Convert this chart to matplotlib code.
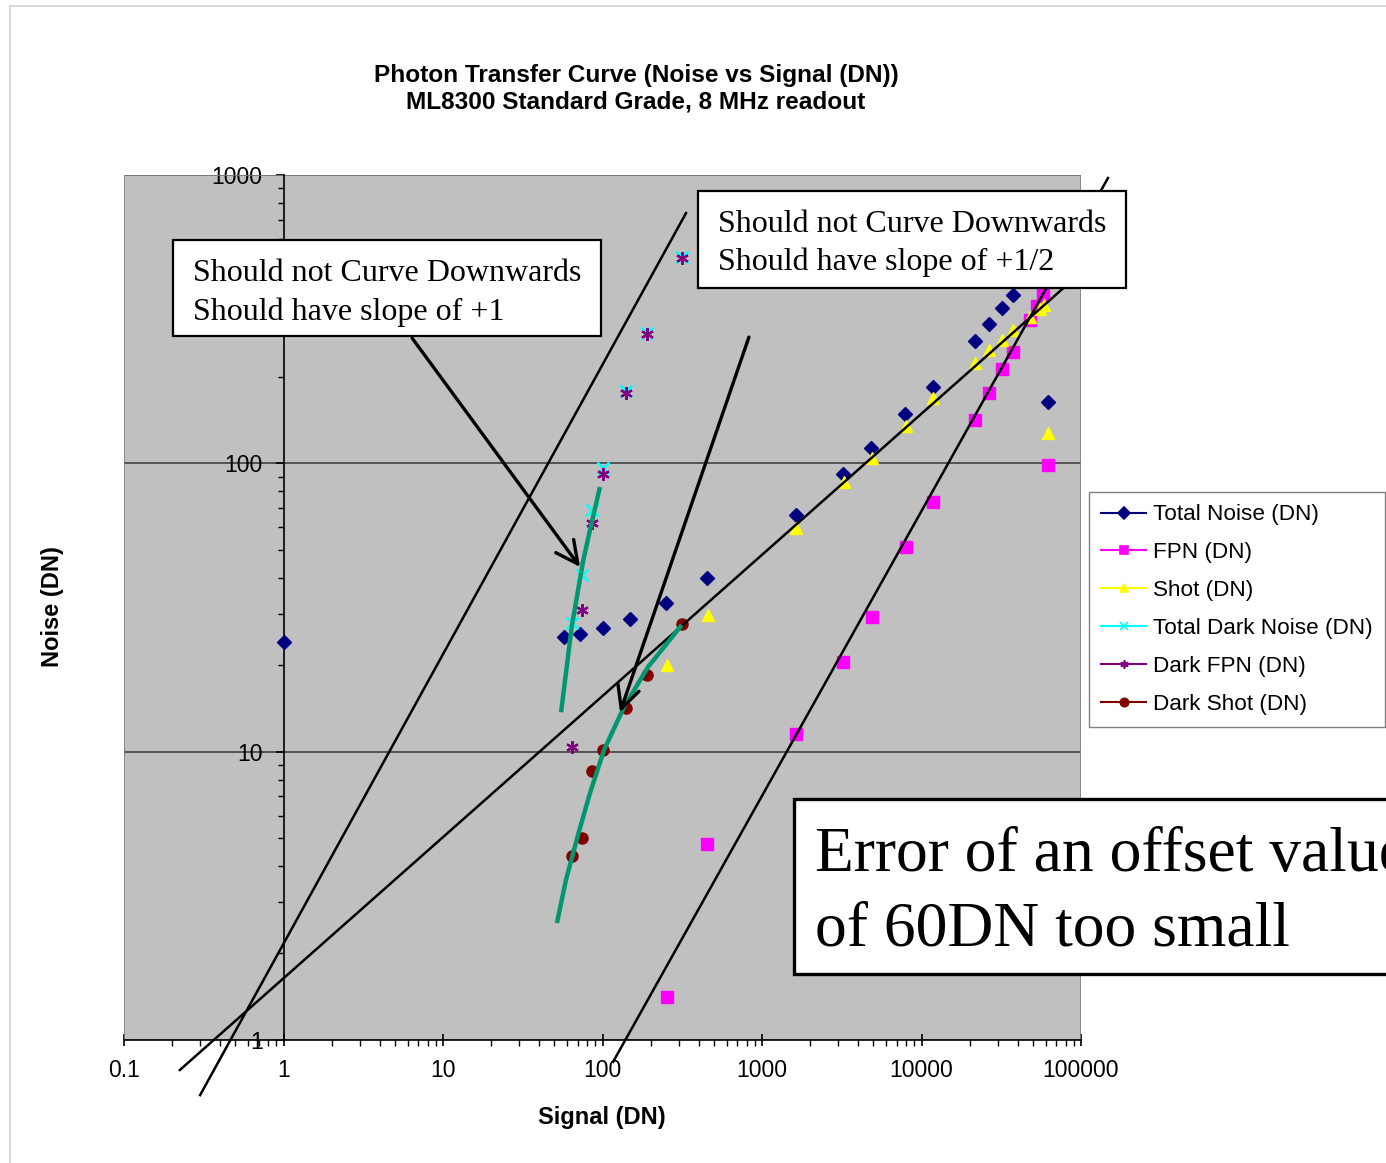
import matplotlib
matplotlib.use("Agg")
import matplotlib.pyplot as plt
from matplotlib.lines import Line2D
from matplotlib.patches import Rectangle
from matplotlib.ticker import FixedLocator, LogLocator, NullFormatter, FuncFormatter

plt.rcParams['font.family'] = ['Liberation Sans', 'DejaVu Sans']

# ---- values (signal DN, noise DN) ----
total_x = [1, 57, 72, 101, 149, 250, 452, 1633, 3220, 4820, 7880, 11800,
           21640, 26500, 32000, 37500, 62100]
total_y = [24, 25, 25.6, 26.8, 28.8, 32.8, 40, 66, 92, 113, 148, 184,
           266, 304, 346, 384, 163]

fpn_x = [253, 452, 1633, 3220, 4900, 8000, 11860, 21640, 26600, 31840,
         37600, 47900, 52700, 58000, 62300]
fpn_y = [1.41, 4.78, 11.5, 20.5, 29.3, 51.4, 73.6, 141, 176, 212,
         244, 314, 350, 385, 99]

shot_x = [253, 456, 1633, 3266, 4870, 7960, 11860, 21640, 26600, 31840,
          37600, 47900, 55300, 58500, 62400]
shot_y = [20, 29.8, 59.5, 86, 104, 135, 168, 223, 247, 268,
          290, 322, 342, 354, 127]

dark_x = [64, 74, 86, 101, 141, 191, 314]
dark_total_y = [28, 41, 69, 96, 178, 283, 518]
dark_fpn_y = [10.4, 31, 62, 92, 175, 281, 514]
dark_shot_y = [4.35, 5.0, 8.6, 10.1, 14.2, 18.5, 27.7]

series_names = ["Total Noise (DN)", "FPN (DN)", "Shot (DN)",
                "Total Dark Noise (DN)", "Dark FPN (DN)", "Dark Shot (DN)"]

x_ticks = [0.1, 1, 10, 100, 1000, 10000, 100000]
y_ticks = [1, 10, 100, 1000]

# hand-drawn reference lines (end points)
slope1_x, slope1_y = [0.30, 334], [0.644, 738]
half_x, half_y = [0.224, 113800], [0.787, 489]
fpn_line_x, fpn_line_y = [116.5, 147600], [0.84, 976]

# green hand-drawn strokes
green_a_x = [55, 64.1, 75.8, 83.5, 96.4]
green_a_y = [13.7, 27.1, 46.2, 58.7, 82.8]
green_b_x = [51.8, 59.0, 70.2, 83.5, 102.2, 136.4, 192.9, 313.8]
green_b_y = [2.545, 3.59, 5.14, 7.19, 10.13, 14.29, 19.66, 27.5]

# arrows (tail, tip)
arrows = [((6.4, 272), (72.3, 43.7)), ((828, 274), (128.8, 13.7))]

W, H = 1386, 1163
fig = plt.figure(figsize=(W / 100, H / 100), dpi=100)
ax = fig.add_axes([124 / W, 1 - 1040 / H, 957 / W, 865 / H])


def px_rect(x0, y0, x1, y1, **kw):
    return Rectangle((x0 / W, 1 - y1 / H), (x1 - x0) / W, (y1 - y0) / H,
                     transform=fig.transFigure, **kw)


# outer light frame
fig.add_artist(px_rect(10, 6, 1400, 1180, fill=False, edgecolor='#d4d4d4', lw=1.2))

ax.set_xscale('log')
ax.set_yscale('log')
ax.set_xlim(0.1, 100000)
ax.set_ylim(1, 1000)
ax.set_facecolor('#c0c0c0')
ax.add_patch(Rectangle((0, 0), 1, 1, transform=ax.transAxes, fill=False,
                       edgecolor='#808080', lw=1.2, zorder=0.6))

ax.spines['left'].set_position(('data', 1))
for s in ('top', 'right'):
    ax.spines[s].set_visible(False)
ax.spines['left'].set_linewidth(1.2)
ax.spines['bottom'].set_linewidth(1.2)

ax.set_axisbelow(True)
ax.yaxis.grid(True, which='major', color='#404040', lw=1.2)

fmt = FuncFormatter(lambda v, p: '%g' % v)
ax.xaxis.set_major_locator(FixedLocator(x_ticks))
ax.yaxis.set_major_locator(FixedLocator(y_ticks))
ax.xaxis.set_minor_locator(LogLocator(base=10, subs=range(2, 10), numticks=20))
ax.yaxis.set_minor_locator(LogLocator(base=10, subs=range(2, 10), numticks=20))
ax.xaxis.set_major_formatter(fmt)
ax.yaxis.set_major_formatter(fmt)
ax.xaxis.set_minor_formatter(NullFormatter())
ax.yaxis.set_minor_formatter(NullFormatter())
ax.tick_params(axis='x', which='major', direction='inout', length=9, width=1.2,
               pad=9, labelsize=16.5)
ax.tick_params(axis='x', which='minor', direction='out', length=4, width=1)
ax.tick_params(axis='y', which='major', direction='out', length=6, width=1.2,
               pad=9, labelsize=16.5)
ax.tick_params(axis='y', which='minor', direction='out', length=4, width=1)

# data series
ax.plot(total_x, total_y, ls='none', marker='D', color='#000080', ms=7, zorder=3)
ax.plot(fpn_x, fpn_y, ls='none', marker='s', color='#ff00ff', ms=8.5, zorder=3)
ax.plot(shot_x, shot_y, ls='none', marker='^', color='#ffff00', ms=9, zorder=3)
ax.plot(dark_x, dark_total_y, ls='none', marker='x', color='#00ffff', ms=8,
        mew=1.8, zorder=3)
ax.plot(dark_x, dark_fpn_y, ls='none', marker=(6, 2, 0), color='#800080', ms=9,
        mew=1.6, zorder=3)
ax.plot(dark_x, dark_shot_y, ls='none', marker='o', color='#800000', ms=8, zorder=3)

# reference lines
for lx, ly in ((slope1_x, slope1_y), (half_x, half_y), (fpn_line_x, fpn_line_y)):
    ax.plot(lx, ly, color='black', lw=1.8, clip_on=False, zorder=4)

# green strokes
ax.plot(green_a_x, green_a_y, color='#00966e', lw=3.2, solid_capstyle='butt',
        solid_joinstyle='round', zorder=5)
ax.plot(green_b_x, green_b_y, color='#00966e', lw=3.2, solid_capstyle='butt',
        solid_joinstyle='round', zorder=5)

for tail, tip in arrows:
    ax.annotate('', xy=tip, xytext=tail, annotation_clip=False,
                arrowprops=dict(arrowstyle='->,head_length=0.8,head_width=0.4',
                                mutation_scale=20, color='black', lw=2.4,
                                shrinkA=0, shrinkB=0), zorder=6)

ax.set_xlabel('Signal (DN)', fontsize=17, fontweight='bold')
ax.xaxis.set_label_coords(0.4995, -0.0895)
ax.xaxis.label.set_va('center')
ax.set_ylabel('Noise (DN)', fontsize=17, fontweight='bold')
ax.yaxis.set_label_coords(-0.0752, 0.5006)
ax.yaxis.label.set_va('center')

fig.suptitle('Photon Transfer Curve (Noise vs Signal (DN))\nML8300 Standard Grade, 8 MHz readout',
             x=636 / W, y=1 - 89 / H, va='center', fontsize=17.6, fontweight='bold',
             linespacing=1.2)

# legend
colors = ['#000080', '#ff00ff', '#ffff00', '#00ffff', '#800080', '#800000']
markers = ['D', 's', '^', 'x', (6, 2, 0), 'o']
handles = [Line2D([], [], color=c, marker=m, ms=6, lw=1.5, mew=1.2)
           for c, m in zip(colors, markers)]
ax.legend(handles, series_names, loc='upper left',
          bbox_to_anchor=(1089 / W, 1 - 492 / H), bbox_transform=fig.transFigure,
          borderaxespad=0, fontsize=16.2, frameon=True, fancybox=False,
          edgecolor='#808080', framealpha=1, handlelength=2.0,
          handletextpad=0.3, labelspacing=0.75, borderpad=0.55)

# text boxes
serif = ['Liberation Serif', 'DejaVu Serif']
fig.add_artist(px_rect(173, 240, 601, 336, facecolor='white', edgecolor='black',
                       lw=1.6, zorder=5))
fig.text(193 / W, 1 - 293 / H, 'Should not Curve Downwards\nShould have slope of +1',
         family=serif, fontsize=23, va='center', ha='left', linespacing=1.42, zorder=6)
fig.add_artist(px_rect(698, 191, 1126, 288, facecolor='white', edgecolor='black',
                       lw=1.6, zorder=5))
fig.text(718 / W, 1 - 243.5 / H, 'Should not Curve Downwards\nShould have slope of +1/2',
         family=serif, fontsize=23, va='center', ha='left', linespacing=1.42, zorder=6)
fig.add_artist(px_rect(794, 799, 1500, 974, facecolor='white', edgecolor='black',
                       lw=2.4, zorder=5))
fig.text(815 / W, 1 - 893 / H, 'Error of an offset value\nof 60DN too small',
         family=serif, fontsize=45.8, va='center', ha='left', linespacing=1.37, zorder=6)

fig.savefig('out.png', dpi=100)
